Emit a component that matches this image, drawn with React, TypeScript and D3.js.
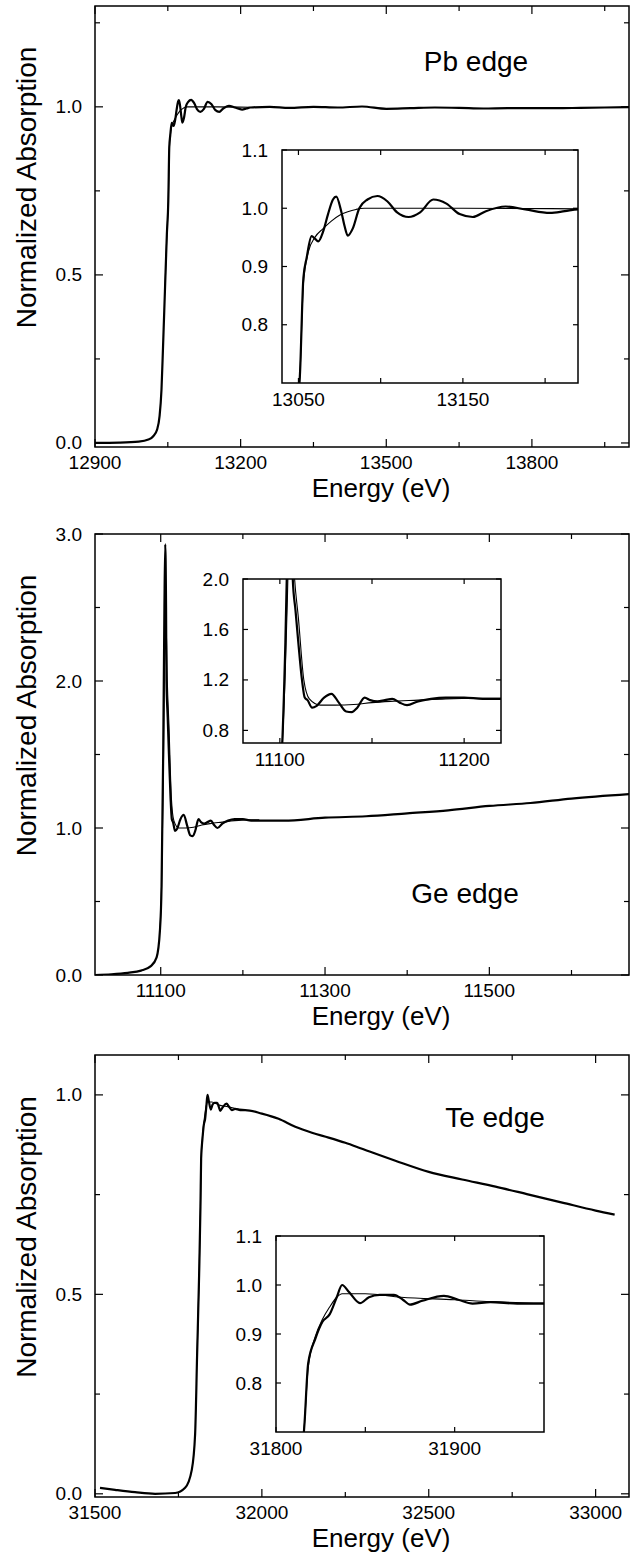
import React from 'react';
import * as d3 from 'd3';

type Pt = [number, number];

// ---- data ----
const pbExp: Pt[] = [
  [12900, 0.0], [12950, 0.001], [12990, 0.004], [13010, 0.01], [13020, 0.02], [13028, 0.04],
  [13033, 0.08], [13037, 0.16], [13040, 0.28], [13044, 0.45], [13048, 0.62], [13051, 0.72],
  [13053, 0.88], [13055, 0.915], [13058, 0.952], [13060, 0.948], [13062, 0.943], [13065, 0.96],
  [13068, 0.99], [13071, 1.015], [13073, 1.02], [13076, 0.995], [13078, 0.97], [13080, 0.953],
  [13083, 0.965], [13087, 1.0], [13092, 1.015], [13098, 1.021], [13104, 1.012], [13110, 0.993],
  [13117, 0.985], [13124, 0.993], [13132, 1.015], [13140, 1.008], [13148, 0.99], [13156, 0.985],
  [13164, 0.995], [13176, 1.003], [13188, 0.998], [13203, 0.992], [13212, 0.995], [13220, 0.998],
  [13260, 1.0], [13300, 0.997], [13350, 1.0], [13400, 0.998], [13450, 1.001], [13500, 0.994],
  [13550, 0.996], [13600, 0.998], [13650, 0.997], [13700, 0.995], [13750, 0.996], [13800, 0.996],
  [13850, 0.996], [13900, 0.997], [13950, 0.998], [14000, 0.999],
];
const pbFit: Pt[] = [
  [13044, 0.45], [13048, 0.62], [13051, 0.72], [13053, 0.87], [13056, 0.925], [13060, 0.95],
  [13065, 0.965], [13070, 0.978], [13075, 0.988], [13080, 0.994], [13085, 0.998], [13090, 1.0],
  [13150, 1.0], [13220, 0.999],
];

const geExp: Pt[] = [
  [11020, 0.0], [11040, 0.005], [11060, 0.015], [11076, 0.03], [11088, 0.06], [11095, 0.12],
  [11099, 0.3], [11101, 0.6], [11103, 1.5], [11104.5, 2.5], [11105.5, 2.93], [11106.5, 2.5],
  [11107, 2.0], [11108.5, 1.75], [11110, 1.5], [11112, 1.2], [11113.5, 1.06], [11115, 1.04],
  [11117.5, 0.98], [11120, 0.995], [11124, 1.06], [11128, 1.09], [11132, 1.02], [11136, 0.95],
  [11139, 0.945], [11142, 0.98], [11146, 1.06], [11149, 1.04], [11153, 1.03], [11157, 1.04],
  [11161, 1.05], [11165, 1.02], [11169, 1.0], [11175, 1.03], [11182, 1.05], [11190, 1.06],
  [11200, 1.06], [11210, 1.05], [11220, 1.05], [11250, 1.05], [11300, 1.07], [11350, 1.08],
  [11400, 1.1], [11450, 1.12], [11500, 1.15], [11550, 1.17], [11600, 1.2], [11670, 1.23],
];
const geFit: Pt[] = [
  [11099, 0.3], [11101, 0.6], [11103, 1.3], [11104, 1.8], [11105, 2.3], [11106.5, 2.4],
  [11108, 2.0], [11110, 1.7], [11113, 1.2], [11116, 1.05], [11122, 1.0], [11130, 1.0],
  [11140, 1.005], [11150, 1.02], [11160, 1.03], [11175, 1.04], [11190, 1.05], [11205, 1.055],
  [11220, 1.055],
];

const teExp: Pt[] = [
  [31515, 0.015], [31560, 0.01], [31620, 0.004], [31680, 0.0], [31740, 0.002], [31770, 0.015],
  [31790, 0.06], [31800, 0.15], [31806, 0.35], [31812, 0.55], [31816, 0.72], [31818, 0.84],
  [31822, 0.89], [31826, 0.925], [31830, 0.94], [31834, 0.975], [31837, 1.0], [31841, 0.985],
  [31847, 0.963], [31852, 0.975], [31858, 0.98], [31866, 0.98], [31871, 0.97], [31875, 0.96],
  [31882, 0.968], [31894, 0.978], [31902, 0.97], [31910, 0.962], [31920, 0.965], [31935, 0.962],
  [31950, 0.962], [32000, 0.953], [32050, 0.94], [32100, 0.92], [32150, 0.905], [32200, 0.893],
  [32250, 0.88], [32300, 0.865], [32400, 0.835], [32500, 0.807], [32600, 0.788], [32700, 0.77],
  [32800, 0.75], [32900, 0.73], [33000, 0.71], [33057, 0.7],
];
const teFit: Pt[] = [
  [31806, 0.35], [31812, 0.55], [31816, 0.72], [31818, 0.83], [31822, 0.895], [31826, 0.93],
  [31830, 0.955], [31834, 0.975], [31837, 0.982], [31850, 0.982], [31870, 0.975], [31900, 0.97],
  [31920, 0.966], [31950, 0.963],
];

// ticks
const pbXMajor = [12900, 13200, 13500, 13800];
const pbXMinor = [13050, 13350, 13650, 13950];
const pbYMajor = [0, 0.5, 1.0];
const pbYMinor = [0.25, 0.75, 1.25];
const pbInXMajor = [13050, 13150];
const pbInXMinor = [13100, 13200];
const pbInYMajor = [0.8, 0.9, 1.0, 1.1];

const geXMajor = [11100, 11300, 11500];
const geXMinor = [11200, 11400, 11600];
const geYMajor = [0, 1, 2, 3];
const geYMinor = [0.5, 1.5, 2.5];
const geInXMajor = [11100, 11200];
const geInXMinor = [11150];
const geInYMajor = [0.8, 1.2, 1.6, 2.0];

const teXMajor = [31500, 32000, 32500, 33000];
const teXMinor = [31750, 32250, 32750];
const teYMajor = [0, 0.5, 1.0];
const teYMinor = [0.25, 0.75];
const teInXMajor = [31800, 31900];
const teInXMinor = [31850];
const teInYMajor = [0.8, 0.9, 1.0, 1.1];

const FONT = "'Liberation Sans', Arial, Helvetica, sans-serif";

interface Box { x0: number; x1: number; y0: number; y1: number }

interface AxesProps {
  id: string;
  box: Box;
  xDomain: [number, number];
  yDomain: [number, number];
  xMajor: number[];
  xMinor: number[];
  yMajor: number[];
  yMinor: number[];
  majorLen: number;
  minorLen: number;
  labelGap: number;
  xLabelDy: number;
  exp: Pt[];
  fit: Pt[];
}

const fmt = d3.format('.1f');

const Axes = ({ id, box, xDomain, yDomain, xMajor, xMinor, yMajor, yMinor, majorLen, minorLen, labelGap, xLabelDy, exp, fit }: AxesProps) => {
  const x = d3.scaleLinear().domain(xDomain).range([box.x0, box.x1]);
  const y = d3.scaleLinear().domain(yDomain).range([box.y1, box.y0]);
  const line = d3.line<Pt>().x(d => x(d[0])).y(d => y(d[1])).curve(d3.curveMonotoneX);

  const xt = (v: number, len: number, k: string) => (
    <g key={k}>
      <line x1={x(v)} x2={x(v)} y1={box.y1} y2={box.y1 - len} stroke="#000" strokeWidth={1.2} />
      <line x1={x(v)} x2={x(v)} y1={box.y0} y2={box.y0 + len} stroke="#000" strokeWidth={1.2} />
    </g>
  );
  const yt = (v: number, len: number, k: string) => (
    <g key={k}>
      <line x1={box.x0} x2={box.x0 + len} y1={y(v)} y2={y(v)} stroke="#000" strokeWidth={1.2} />
      <line x1={box.x1} x2={box.x1 - len} y1={y(v)} y2={y(v)} stroke="#000" strokeWidth={1.2} />
    </g>
  );

  return (
    <g>
      <defs>
        <clipPath id={id}>
          <rect x={box.x0} y={box.y0} width={box.x1 - box.x0} height={box.y1 - box.y0} />
        </clipPath>
      </defs>
      <rect x={box.x0} y={box.y0} width={box.x1 - box.x0} height={box.y1 - box.y0} fill="#fff" />
      <g clipPath={`url(#${id})`}>
        <path d={line(exp) || ''} fill="none" stroke="#000" strokeWidth={2.2} strokeLinejoin="round" />
        <path d={line(fit) || ''} fill="none" stroke="#000" strokeWidth={1.1} strokeLinejoin="round" />
      </g>
      {xMajor.map(v => xt(v, majorLen, 'xM' + v))}
      {xMinor.map(v => xt(v, minorLen, 'xm' + v))}
      {yMajor.map(v => yt(v, majorLen, 'yM' + v))}
      {yMinor.map(v => yt(v, minorLen, 'ym' + v))}
      <rect x={box.x0} y={box.y0} width={box.x1 - box.x0} height={box.y1 - box.y0} fill="none" stroke="#000" strokeWidth={1.5} />
      {xMajor.map(v => (
        <text key={'xl' + v} x={x(v)} y={box.y1 + xLabelDy} textAnchor="middle" fontSize={19} fontFamily={FONT}>{v}</text>
      ))}
      {yMajor.map(v => (
        <text key={'yl' + v} x={box.x0 - labelGap} y={y(v)} textAnchor="end" dominantBaseline="central" fontSize={19} fontFamily={FONT}>{fmt(v)}</text>
      ))}
    </g>
  );
};

interface PanelProps {
  id: string;
  box: Box;
  xDomain: [number, number];
  yDomain: [number, number];
  xMajor: number[]; xMinor: number[]; yMajor: number[]; yMinor: number[];
  exp: Pt[]; fit: Pt[];
  label: string; labelX: number; labelY: number;
  inBox: Box;
  inX: [number, number];
  inY: [number, number];
  inXMajor: number[]; inXMinor: number[]; inYMajor: number[];
}

const Panel = (p: PanelProps) => {
  // axis title sits a bit above the frame centre in the original
  const cy = (p.box.y0 + p.box.y1) / 2 - 39;
  return (
    <g>
      <Axes id={p.id + 'm'} box={p.box} xDomain={p.xDomain} yDomain={p.yDomain}
        xMajor={p.xMajor} xMinor={p.xMinor} yMajor={p.yMajor} yMinor={p.yMinor}
        majorLen={8} minorLen={5} labelGap={13} xLabelDy={22} exp={p.exp} fit={p.fit} />
      <Axes id={p.id + 'i'} box={p.inBox} xDomain={p.inX} yDomain={p.inY}
        xMajor={p.inXMajor} xMinor={p.inXMinor} yMajor={p.inYMajor} yMinor={[]}
        majorLen={5} minorLen={5} labelGap={14} xLabelDy={23} exp={p.exp} fit={p.fit} />
      <text x={p.labelX} y={p.labelY} textAnchor="middle" fontSize={28} fontFamily={FONT}>{p.label}</text>
      <text x={381} y={p.box.y1 + 50} textAnchor="middle" fontSize={26} fontFamily={FONT}>Energy (eV)</text>
      <text transform={`translate(36,${cy}) rotate(-90)`} textAnchor="middle" fontSize={28} fontFamily={FONT}>Normalized Absorption</text>
    </g>
  );
};

export default function App() {
  return (
    <div style={{ position: 'absolute', top: 0, left: 0 }}>
      <svg width={631} height={1553} style={{ display: 'block', background: '#fff' }}>
        <Panel id="pb" box={{ x0: 95, x1: 629, y0: 6, y1: 447 }}
          xDomain={[12900, 14000]} yDomain={[-0.012, 1.3]}
          xMajor={pbXMajor} xMinor={pbXMinor} yMajor={pbYMajor} yMinor={pbYMinor}
          exp={pbExp} fit={pbFit} label="Pb edge" labelX={476} labelY={71}
          inBox={{ x0: 282, x1: 578, y0: 150, y1: 383 }} inX={[13040, 13220]} inY={[0.7, 1.1]}
          inXMajor={pbInXMajor} inXMinor={pbInXMinor} inYMajor={pbInYMajor} />
        <Panel id="ge" box={{ x0: 95, x1: 629, y0: 534, y1: 975 }}
          xDomain={[11020, 11670]} yDomain={[0, 3]}
          xMajor={geXMajor} xMinor={geXMinor} yMajor={geYMajor} yMinor={geYMinor}
          exp={geExp} fit={geFit} label="Ge edge" labelX={465} labelY={903}
          inBox={{ x0: 243, x1: 501, y0: 579, y1: 743 }} inX={[11080, 11220]} inY={[0.7, 2.0]}
          inXMajor={geInXMajor} inXMinor={geInXMinor} inYMajor={geInYMajor} />
        <Panel id="te" box={{ x0: 95, x1: 629, y0: 1055, y1: 1497 }}
          xDomain={[31500, 33100]} yDomain={[-0.008, 1.1]}
          xMajor={teXMajor} xMinor={teXMinor} yMajor={teYMajor} yMinor={teYMinor}
          exp={teExp} fit={teFit} label="Te edge" labelX={495} labelY={1127}
          inBox={{ x0: 276, x1: 544, y0: 1236, y1: 1432 }} inX={[31800, 31950]} inY={[0.7, 1.1]}
          inXMajor={teInXMajor} inXMinor={teInXMinor} inYMajor={teInYMajor} />
      </svg>
    </div>
  );
}
